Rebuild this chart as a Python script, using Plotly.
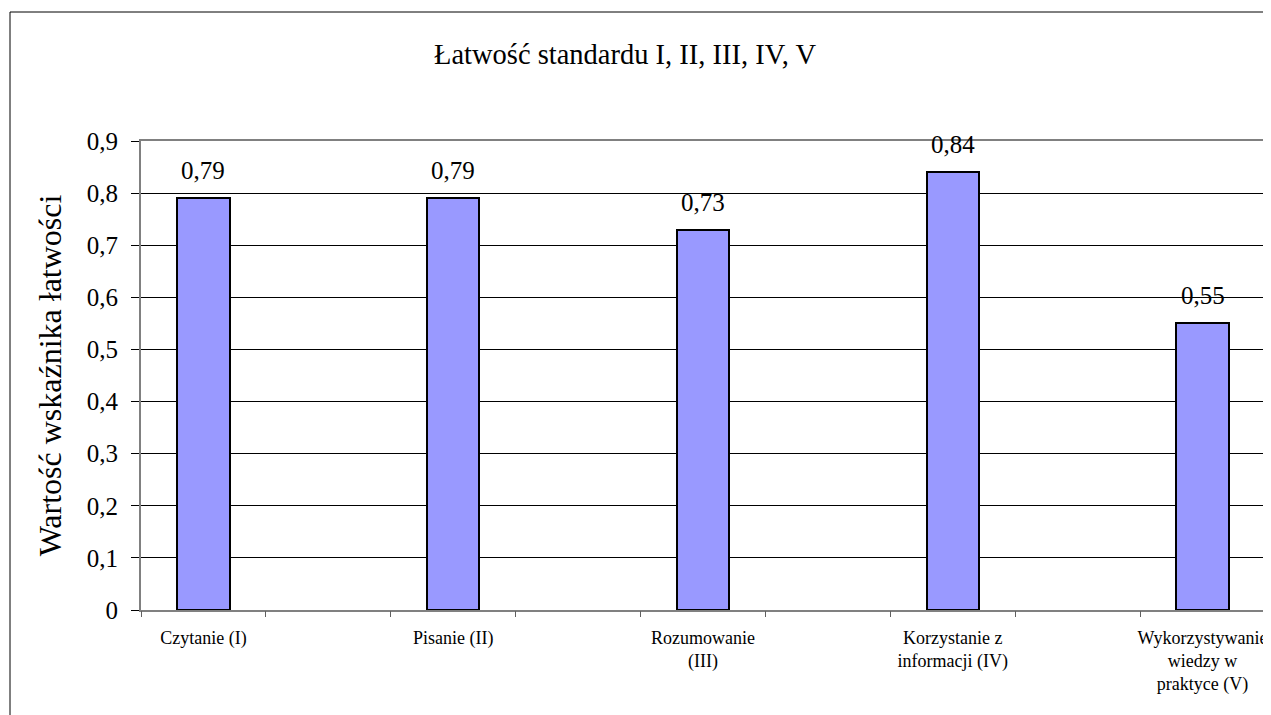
import plotly.graph_objects as go

# ---- data ----
categories = ["Czytanie (I)", "Pisanie (II)", "Rozumowanie<br>(III)",
              "Korzystanie z<br>informacji (IV)", "Wykorzystywanie<br>wiedzy w<br>praktyce (V)"]
values = [0.79, 0.79, 0.73, 0.84, 0.55]
value_labels = ["0,79", "0,79", "0,73", "0,84", "0,55"]
y_tick_vals = [0, 0.1, 0.2, 0.3, 0.4, 0.5, 0.6, 0.7, 0.8, 0.9]
y_tick_text = ["0", "0,1", "0,2", "0,3", "0,4", "0,5", "0,6", "0,7", "0,8", "0,9"]
title_text = "Łatwość standardu I, II, III, IV, V"
y_title = "Wartość wskaźnika łatwości"

# the original chart has an empty category slot between every pair of bars
n_slots = 2 * len(categories) - 1
positions = [2 * i for i in range(len(categories))]
boundaries = [i - 0.5 for i in range(n_slots + 1)]

FONT = "'Liberation Serif', 'Times New Roman', Times, serif"

# page body has an 8px margin; figure sized so it fits the 1271x715 window
W, H = 1263, 707
L, R, T, B = 133, 6, 133, 105
pw, ph = W - L - R, H - T - B

fig = go.Figure()
fig.add_trace(go.Bar(
    x=positions, y=values, width=0.42,
    marker=dict(color="#9999FF", line=dict(color="black", width=2)),
    hoverinfo="skip", showlegend=False,
))
# invisible trace to carry the secondary (tick-only) x axis
fig.add_trace(go.Scatter(x=[boundaries[0], boundaries[-1]], y=[0, 0], xaxis="x2",
                         mode="markers", marker=dict(opacity=0), showlegend=False,
                         hoverinfo="skip"))

for p, v, t in zip(positions, values, value_labels):
    fig.add_annotation(x=p, y=v, text=t, showarrow=False, yanchor="bottom",
                       yshift=12, font=dict(family=FONT, size=25, color="black"))

# chart-area border (cut by the image on right and bottom)
fig.add_shape(type="rect", xref="paper", yref="paper",
              x0=(2 - L) / pw, x1=1.2, y0=-0.5, y1=(T + ph - 4) / ph,
              line=dict(color="black", width=1), fillcolor="rgba(0,0,0,0)", layer="below")

rng = [boundaries[0], boundaries[-1]]
fig.update_layout(
    width=W, height=H,
    margin=dict(l=L, r=R, t=T, b=B),
    paper_bgcolor="white", plot_bgcolor="white",
    font=dict(family=FONT, color="black"),
    title=dict(text=title_text, x=617 / W, xanchor="center",
               y=1 - 46 / H, yanchor="middle",
               font=dict(family=FONT, size=28.5, color="black")),
    xaxis=dict(range=rng, tickmode="array", tickvals=positions, ticktext=categories,
               ticks="", showgrid=False, zeroline=False,
               showline=True, linecolor="#808080", linewidth=2, mirror=True,
               tickfont=dict(family=FONT, size=18, color="black"),
               ticklabelstandoff=10, fixedrange=True, automargin=False),
    xaxis2=dict(range=rng, overlaying="x", anchor="y", side="bottom",
                tickmode="array", tickvals=boundaries, ticks="outside", ticklen=6,
                tickcolor="#606060", tickwidth=1, showticklabels=False,
                showgrid=False, zeroline=False, showline=False),
    yaxis=dict(range=[0, 0.9], tickmode="array", tickvals=y_tick_vals, ticktext=y_tick_text,
               ticks="outside", ticklen=8, tickcolor="black", tickwidth=1,
               showgrid=True, gridcolor="black", gridwidth=1, zeroline=False,
               showline=True, linecolor="#808080", linewidth=2, mirror=True,
               tickfont=dict(family=FONT, size=25, color="black"),
               ticklabelstandoff=8, automargin=False,
               title=dict(text=y_title, font=dict(family=FONT, size=32, color="black"),
                          standoff=16)),
    bargap=0,
)

fig.write_html("out.html")
